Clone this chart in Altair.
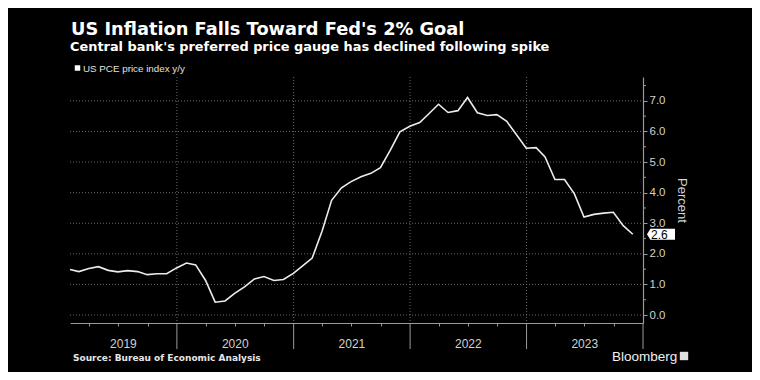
import altair as alt
import pandas as pd

# ---- data ----
pce_values = [
    1.49, 1.42, 1.52, 1.58, 1.46, 1.41, 1.45, 1.42, 1.32, 1.35, 1.35, 1.54,   # 2019
    1.70, 1.64, 1.13, 0.42, 0.46, 0.71, 0.92, 1.18, 1.26, 1.13, 1.16, 1.36,   # 2020
    1.62, 1.86, 2.74, 3.75, 4.16, 4.36, 4.52, 4.63, 4.82, 5.39, 5.99, 6.17,   # 2021
    6.29, 6.57, 6.89, 6.62, 6.68, 7.11, 6.61, 6.52, 6.55, 6.33, 5.90, 5.45,   # 2022
    5.47, 5.17, 4.43, 4.43, 3.96, 3.20, 3.29, 3.33, 3.36, 2.92, 2.64,         # 2023
]
months = [d.strftime("%Y-%m-%d") for d in pd.date_range("2019-01-31", periods=len(pce_values), freq="ME")]
years = [2019, 2020, 2021, 2022, 2023]
y_ticks = [0, 1, 2, 3, 4, 5, 6, 7]
y_minor = [0.5, 1.5, 2.5, 3.5, 4.5, 5.5, 6.5, 7.5]

TITLE = "US Inflation Falls Toward Fed's 2% Goal"
SUBTITLE = "Central bank's preferred price gauge has declined following spike"
LEGEND = "US PCE price index y/y"
SOURCE = "Source: Bureau of Economic Analysis"

# ---- layout ----
W, H = 573, 246
FONT = "Liberation Sans"
HFONT = "DejaVu Sans"
GRID = "#6a6a6a"
AXIS = "#9a9a9a"
LABEL = "#d2d2d2"

x_start = "2019-01-31"
x_end = "2024-01-01"

df = pd.DataFrame({"date": months, "value": pce_values})

xscale = alt.Scale(type="utc", domain=[alt.DateTime(year=2019, month=1, date=31, utc=True),
                                       alt.DateTime(year=2024, month=1, date=1, utc=True)])
yscale = alt.Scale(domain=[-0.26, 7.78], nice=False, zero=False)

quarter_ticks = [alt.DateTime(year=y, month=m, date=1, utc=True) for y in years for m in (4, 7, 10)]

# horizontal dotted grid
hgrid = alt.Chart(pd.DataFrame({"v": y_ticks})).mark_rule(
    color=GRID, strokeDash=[1, 2], strokeWidth=1).encode(
    y=alt.Y("v:Q", scale=yscale), x=alt.value(0), x2=alt.value(W))

line = alt.Chart(df).mark_line(color="#ececec", strokeWidth=1.6).encode(
    x=alt.X("date:T", scale=xscale,
            axis=alt.Axis(values=quarter_ticks, tickCount=60, labels=False, title=None, grid=False,
                          tickSize=3, tickColor=AXIS, domainColor=AXIS, domainWidth=1.2)),
    y=alt.Y("value:Q", scale=yscale,
            axis=alt.Axis(orient="right", values=y_ticks, tickCount=40, labelOverlap=False,
                          format=".1f", title="Percent", grid=False,
                          tickSize=4, tickColor=AXIS, domainColor=AXIS, domainWidth=1.2,
                          labelColor=LABEL, labelFont=FONT, labelFontSize=11.5, labelPadding=2,
                          titleColor=LABEL, titleFont=FONT, titleFontSize=13,
                          titleFontWeight="normal", titleAngle=90, titlePadding=10)),
)

# year boundaries
bounds = pd.DataFrame({"date": [f"{y}-01-01" for y in years[1:]] + [x_end]})
vgrid = alt.Chart(bounds[bounds["date"] != x_end]).mark_rule(
    color=GRID, strokeDash=[1, 2], strokeWidth=1).encode(
    x=alt.X("date:T", scale=xscale), y=alt.value(0), y2=alt.value(H))
year_ticks = alt.Chart(bounds).mark_rule(color=AXIS, strokeWidth=1).encode(
    x=alt.X("date:T", scale=xscale), y=alt.value(H), y2=alt.value(H + 26))

# year labels centered in the visible part of each year
lab_rows = []
for y in years:
    a = max(pd.Timestamp(f"{y}-01-01"), pd.Timestamp(x_start))
    b = min(pd.Timestamp(f"{y + 1}-01-01"), pd.Timestamp(x_end))
    lab_rows.append({"date": (a + (b - a) / 2).strftime("%Y-%m-%dT%H:%M:%S"), "label": str(y)})
year_labels = alt.Chart(pd.DataFrame(lab_rows)).mark_text(
    color=LABEL, font=FONT, fontSize=12, baseline="alphabetic").encode(
    x=alt.X("date:T", scale=xscale), y=alt.value(271), text="label:N")

# minor y ticks
minor = alt.Chart(pd.DataFrame({"v": y_minor})).mark_rule(color=AXIS, strokeWidth=1).encode(
    y=alt.Y("v:Q", scale=yscale), x=alt.value(W), x2=alt.value(W + 3))

# last value badge
last = pd.DataFrame({"value": [pce_values[-1]], "label": [f"{pce_values[-1]:.1f}"]})
badge = alt.Chart(last).mark_point(
    shape="M -1 0 L -0.76 -0.4 L 1 -0.4 L 1 0.4 L -0.76 0.4 Z",
    filled=True, color="white", opacity=1, size=784).encode(
    y=alt.Y("value:Q", scale=yscale), x=alt.value(W + 18))
badge_text = alt.Chart(last).mark_text(
    color="black", font=FONT, fontSize=12, align="left", baseline="middle", dy=1).encode(
    y=alt.Y("value:Q", scale=yscale), x=alt.value(W + 8), text="label:N")

# header / footer texts
def txt(s, x, y, size, weight="normal", color="white", align="left", font=FONT):
    return alt.Chart(pd.DataFrame({"t": [s]})).mark_text(
        font=font, fontSize=size, fontWeight=weight, color=color, align=align,
        baseline="alphabetic").encode(x=alt.value(x), y=alt.value(y), text="t:N")

title = txt(TITLE, 1, -42, 17.8, "bold", font=HFONT)
subtitle = txt(SUBTITLE, 0, -26, 12.9, "bold", font=HFONT)
legend_text = txt(LEGEND, 13, -5, 9.8, color="#e0e0e0")
legend_sq = alt.Chart(pd.DataFrame({"t": [LEGEND]})).mark_square(
    color="white", filled=True, opacity=1, size=30).encode(x=alt.value(7.5), y=alt.value(-9))
source = txt(SOURCE, 3, 284, 9, "bold", color="#e6e6e6", font=HFONT)
brand = txt("Bloomberg", 542, 284, 13.5, "normal", color="#f0f0f0")
brand_icon = alt.Chart(pd.DataFrame({"t": ["icon"]})).mark_square(
    color="#e0e0e0", filled=True, opacity=1, size=70).encode(x=alt.value(614), y=alt.value(279))

chart = alt.layer(
    hgrid, vgrid, year_ticks, line, minor, year_labels, badge, badge_text,
    title, subtitle, legend_sq, legend_text, source, brand, brand_icon,
).properties(
    width=W, height=H,
    autosize=alt.AutoSizeParams(type="none"),
    padding={"left": 62, "top": 69, "right": 109, "bottom": 49},
    background="black",
).configure_view(strokeWidth=0)

chart.save("out.html", embed_options={"renderer": "svg", "actions": False})
